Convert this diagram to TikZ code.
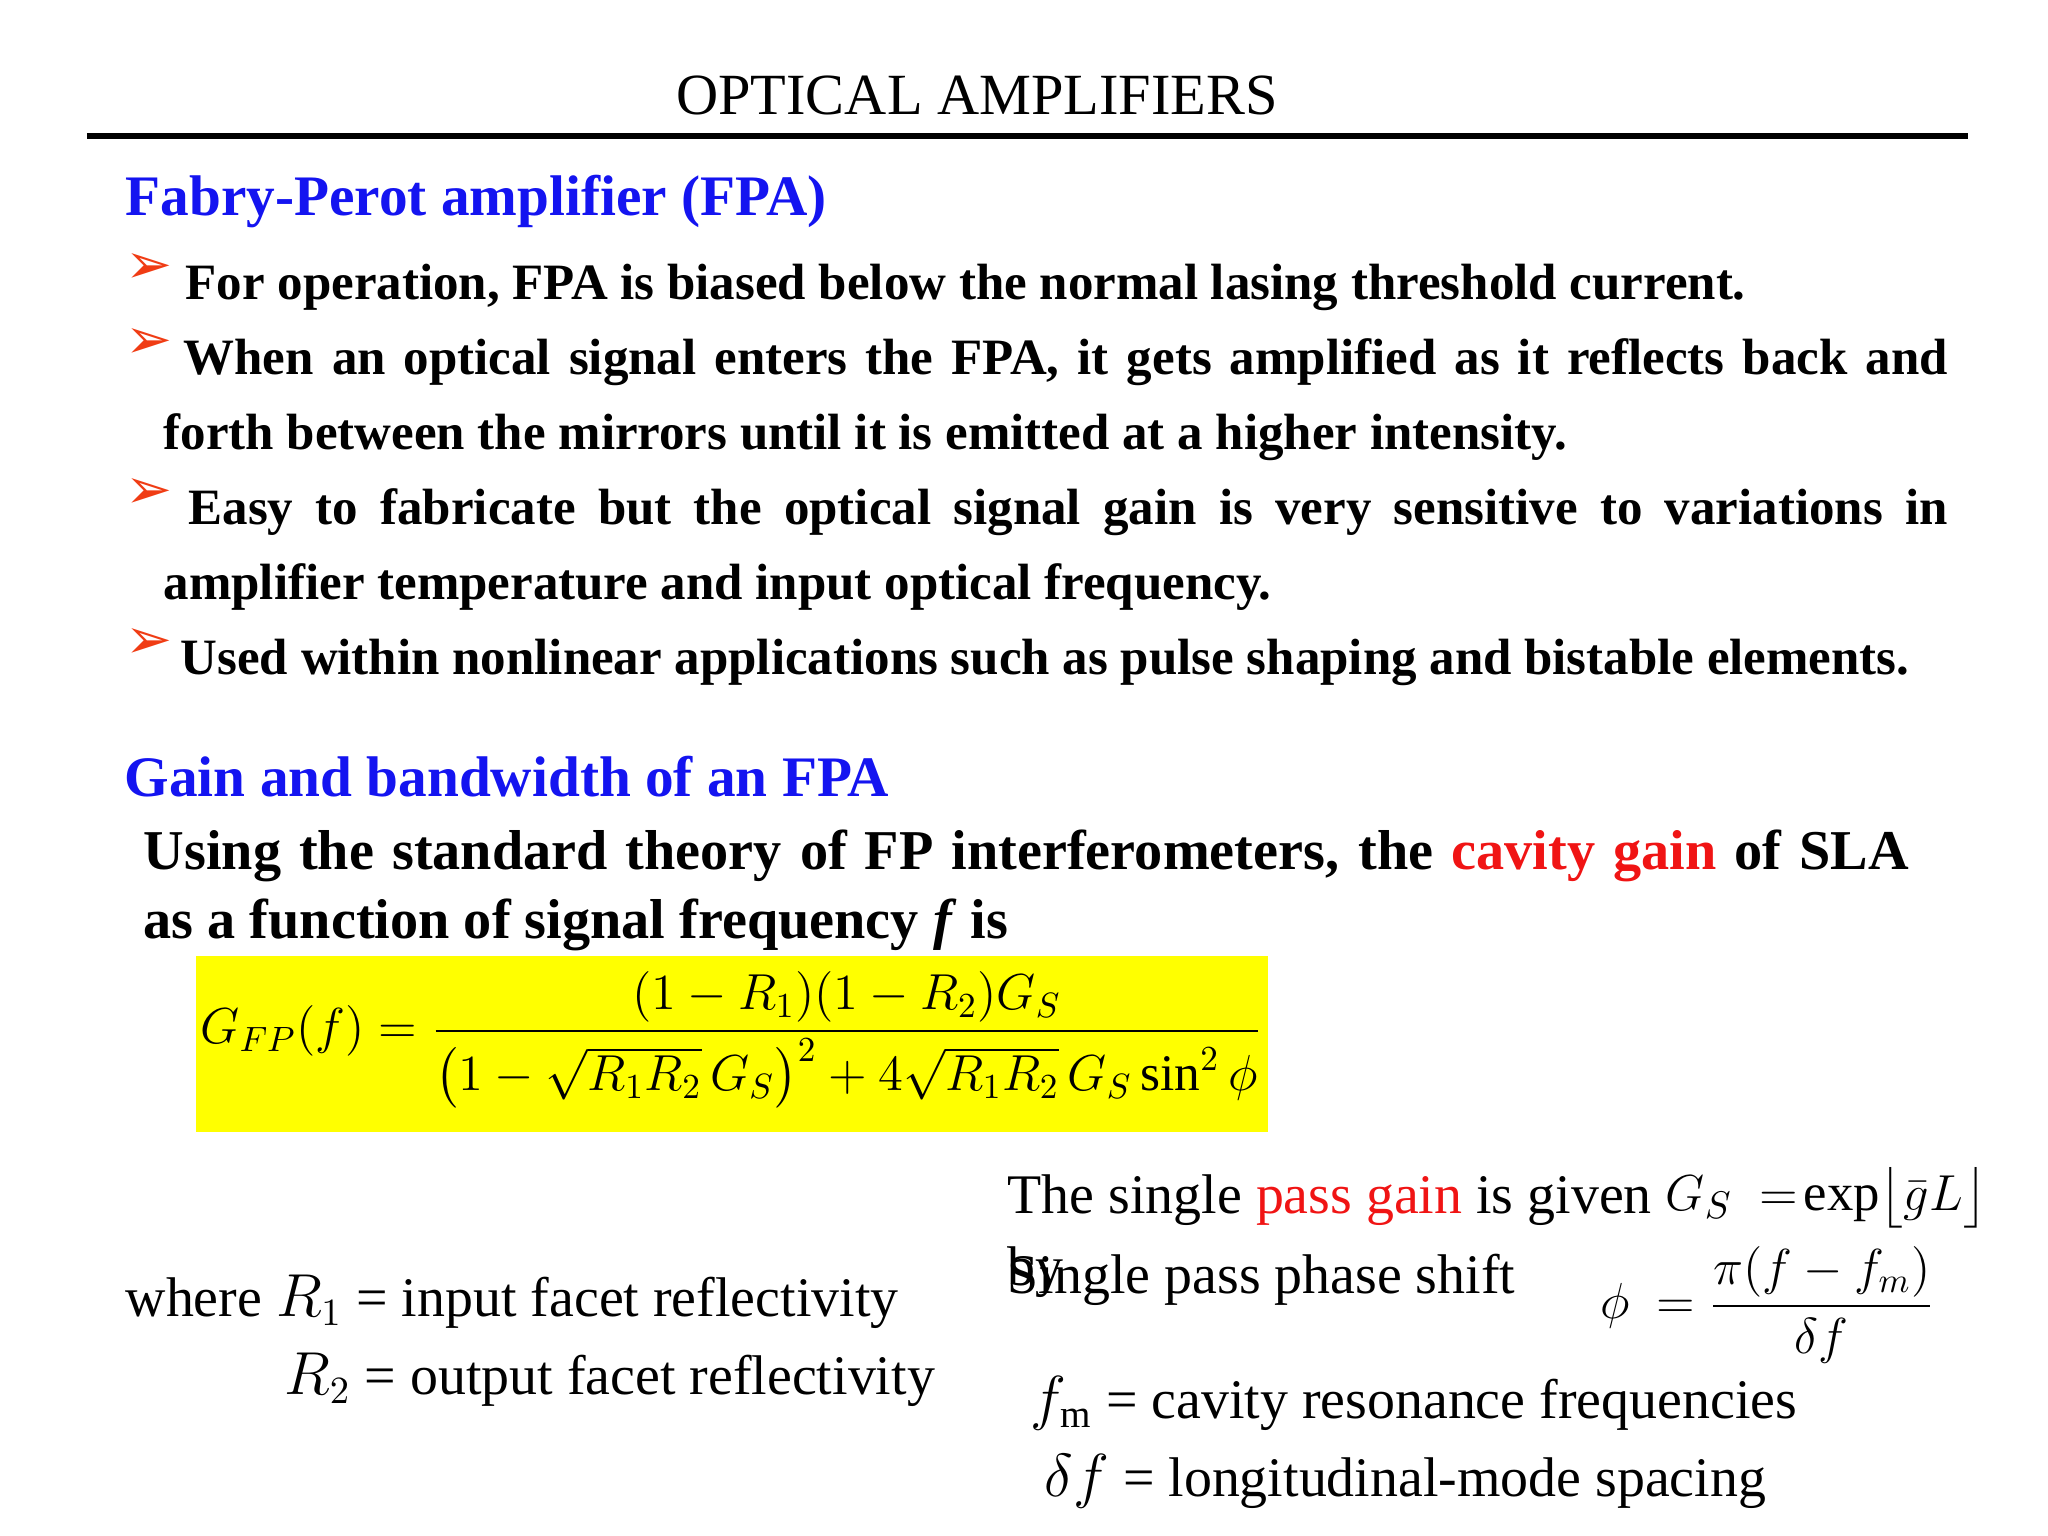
\documentclass[tikz,border=0pt]{standalone}
\usepackage{amsmath}
\usepackage{fontspec}
\setmainfont{Liberation Serif}
\newfontfamily\dv{DejaVu Sans}
\definecolor{myblue}{RGB}{20,20,240}
\definecolor{myred}{RGB}{240,20,20}
\definecolor{arr}{RGB}{240,60,20}
\definecolor{yel}{RGB}{255,255,0}
\begin{document}
\begin{tikzpicture}[x=1cm,y=1cm,
  ln/.style={anchor=base west,inner sep=0pt,font=\fontsize{14.5}{17}\selectfont\bfseries},
  hd/.style={anchor=base west,inner sep=0pt,font=\fontsize{16.3}{20}\selectfont\bfseries,text=myblue},
  rg/.style={anchor=base west,inner sep=0pt,font=\fontsize{15.9}{18}\selectfont},
  bul/.style={anchor=base west,inner sep=0pt,text=arr,font=\dv\fontsize{16}{18}\selectfont}]
\useasboundingbox (0,0) rectangle (20.48,-15.36);
\node[anchor=base,inner sep=0pt,font=\fontsize{16.6}{20}\selectfont] (title) at (9.77,-1.15) {OPTICAL AMPLIFIERS};
\draw[line width=0.06cm] (0.87,-1.36) coordinate (r1) -- (19.68,-1.36) coordinate (r2);
\node[hd] (h1) at (1.25,-2.16) {Fabry-Perot amplifier (FPA)};
\node[bul] (b1) at (1.25,-2.84) {➢};
\node[ln] (l1) at (1.85,-3.0) {For operation, FPA is biased below the normal lasing threshold current.};
\node[bul] (b2) at (1.25,-3.59) {➢};
\node[ln] (l2) at (1.83,-3.75) {\makebox[17.64cm][s]{When an optical signal enters the FPA, it gets amplified as it reflects back and}};
\node[ln] (l3) at (1.63,-4.50) {forth between the mirrors until it is emitted at a higher intensity.};
\node[bul] (b3) at (1.25,-5.09) {➢};
\node[ln] (l4) at (1.88,-5.25) {\makebox[17.59cm][s]{Easy to fabricate but the optical signal gain is very sensitive to variations in}};
\node[ln] (l5) at (1.63,-6.00) {amplifier temperature and input optical frequency.};
\node[bul] (b4) at (1.25,-6.59) {➢};
\node[ln] (l6) at (1.80,-6.75) {Used within nonlinear applications such as pulse shaping and bistable elements.};
\node[hd] (h2) at (1.24,-7.96) {Gain and bandwidth of an FPA};
\node[ln,font=\fontsize{16}{19}\selectfont\bfseries] (u1) at (1.43,-8.69) {\makebox[17.65cm][s]{Using the standard theory of FP interferometers, the \textcolor{myred}{cavity gain} of SLA}};
\node[ln,font=\fontsize{16}{19}\selectfont\bfseries] (u2) at (1.43,-9.38) {as a function of signal frequency \textit{f} is};
\fill[yel] (1.96,-9.56) rectangle (12.68,-11.32);
\node[anchor=west,inner sep=0pt,font=\fontsize{14.6}{18}\selectfont] (eq) at (2.0,-10.4)
 {$G_{FP}(f)=\dfrac{(1-R_1)(1-R_2)G_S}{\bigl(1-\sqrt{R_1R_2}\,G_S\bigr)^2+4\sqrt{R_1R_2}\,G_S\sin^2\phi}$};
\node[rg] (w1) at (1.25,-13.16) {where $R_1$ = input facet reflectivity};
\node[rg] (w2) at (2.84,-13.94) {$R_2$ = output facet reflectivity};
\node[rg] (s1) at (10.07,-12.13) {The single \textcolor{myred}{pass gain} is given};
\node[rg] (s2) at (10.07,-12.85) {by};
\node[rg] (s3) at (10.07,-12.93) {Single pass phase shift};
\node[rg,font=\fontsize{15}{18}\selectfont] (gs) at (16.65,-12.1) {$G_S\ =\!\exp\bigl\lfloor \bar g L\bigr\rfloor$};
\node[anchor=west,inner sep=0pt,font=\fontsize{14}{17}\selectfont] (ph) at (16.0,-13.05) {$\phi\ =\dfrac{\pi(f-f_m)}{\delta f}$};
\node[rg] (f1) at (10.30,-14.18) {$f_{\mathrm{m}}$ = cavity resonance frequencies};
\node[rg] (f2) at (10.44,-14.96) {$\delta f$ = longitudinal-mode spacing};
\end{tikzpicture}
\end{document}
